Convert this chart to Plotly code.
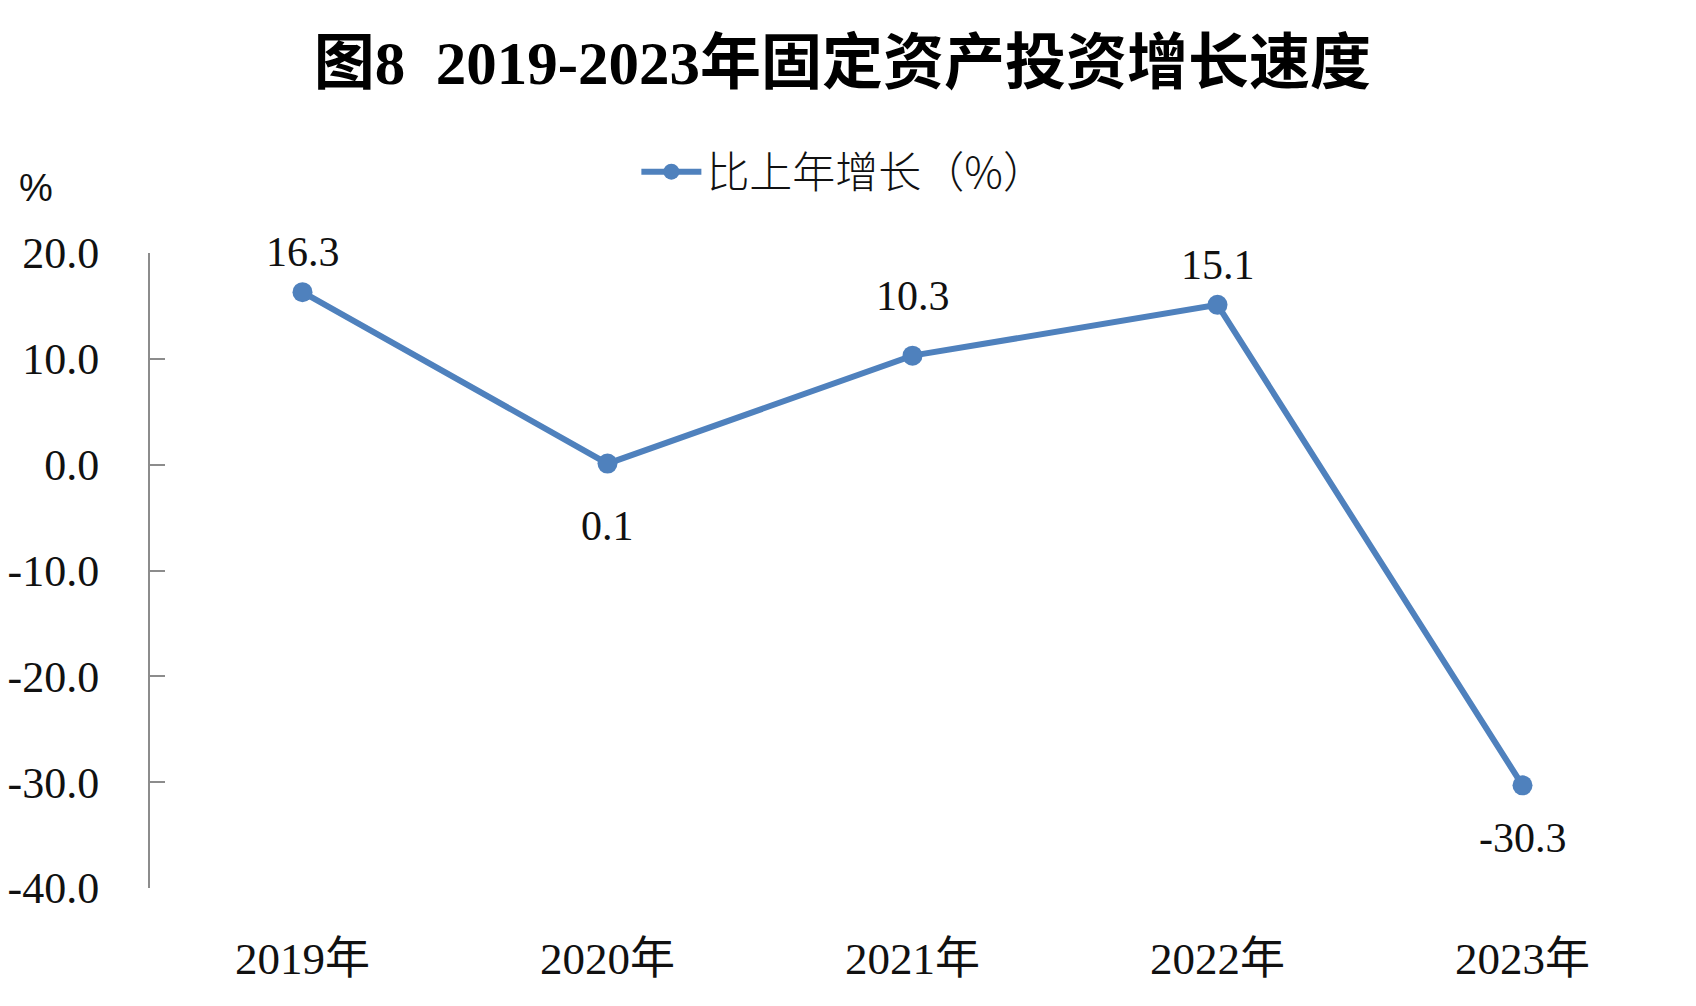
import plotly.graph_objects as go

# 固定资产投资增长速度
years = ['2019年', '2020年', '2021年', '2022年', '2023年']
growth = [16.3, 0.1, 10.3, 15.1, -30.3]
labels = ['16.3', '0.1', '10.3', '15.1', '-30.3']
label_shift = [40, -62, 60, 40, -53]
y_ticks = [-40, -30, -20, -10, 0, 10, 20]
y_ticktext = ['-40.0', '-30.0', '-20.0', '-10.0', '0.0', '10.0', '20.0']
boundaries = [-0.5, 0.5, 1.5, 2.5, 3.5, 4.5]

blue = '#4F81BD'
grey = '#8C8C8C'
serif = 'Liberation Serif, Noto Sans CJK SC'

fig = go.Figure()

fig.add_trace(go.Scatter(
    x=years, y=growth,
    mode='lines+markers',
    name='比上年增长（%）',
    line=dict(color=blue, width=6),
    marker=dict(color=blue, size=20),
    cliponaxis=False,
))

annotations = [dict(
    text='%', xref='paper', yref='paper', x=-0.075, y=1.102,
    showarrow=False, xanchor='center', yanchor='middle',
    font=dict(family='Liberation Sans', size=38, color='#111111'),
)]
for yr, v, t, s in zip(years, growth, labels, label_shift):
    annotations.append(dict(
        x=yr, y=v, text=t, showarrow=False, yshift=s,
        xanchor='center', yanchor='middle',
        font=dict(family=serif, size=42, color='#111111'),
    ))

fig.update_layout(
    width=1696, height=1006,
    paper_bgcolor='white', plot_bgcolor='white',
    margin=dict(l=142, r=29, t=245, b=126),
    showlegend=True,
    title=dict(
        text='<b>图8  2019-2023年固定资产投资增长速度</b>',
        x=0.492, xanchor='center', y=0.946, yanchor='middle',
        font=dict(family=serif, size=61, color='black'),
    ),
    legend=dict(
        orientation='h', x=0.455, xanchor='center', y=1.128, yanchor='middle',
        font=dict(family='Noto Sans CJK SC', size=43, color='#111111', weight=300),
        itemwidth=60,
    ),
    xaxis=dict(
        type='category', range=[-0.5, 4.5], automargin=False,
        showline=False, showgrid=False, zeroline=False, ticks='',
        tickfont=dict(family=serif, size=45, color='#111111'),
        ticklabelstandoff=40,
    ),
    xaxis2=dict(
        overlaying='x', anchor='free', position=40 / 60, side='bottom',
        type='linear', range=[-0.5, 4.5], automargin=False,
        tickmode='array', tickvals=boundaries, showticklabels=False,
        ticks='inside', ticklen=12, tickwidth=2, tickcolor=grey,
        showline=True, linecolor=grey, linewidth=2,
        showgrid=False, zeroline=False,
    ),
    yaxis=dict(
        range=[-40, 20], tickmode='array', tickvals=y_ticks, ticktext=y_ticktext,
        automargin=False,
        showline=True, linecolor=grey, linewidth=2,
        ticks='inside', ticklen=15, tickwidth=2, tickcolor=grey,
        showgrid=False, zeroline=False,
        tickfont=dict(family=serif, size=44, color='#111111'),
        ticklabelstandoff=40,
    ),
    annotations=annotations,
)

fig.write_html('out.html')
